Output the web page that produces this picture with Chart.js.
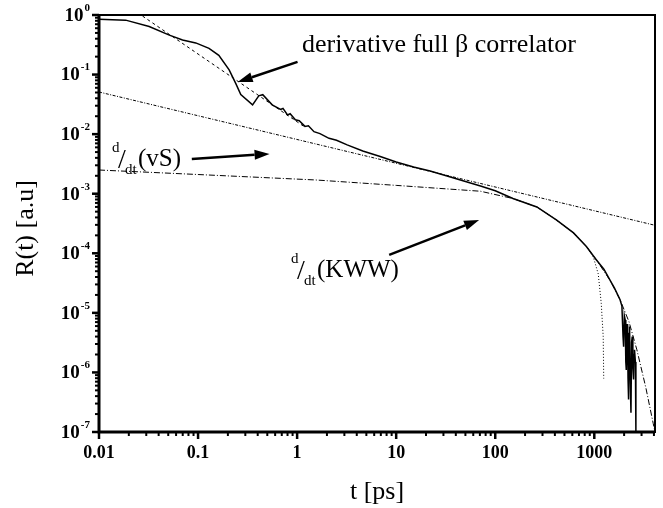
<!DOCTYPE html>
<html>
<head>
<meta charset="utf-8">
<script src="https://cdn.jsdelivr.net/npm/chart.js@4/dist/chart.umd.min.js"></script>
<style>
  html, body { margin: 0; padding: 0; background: #fff; }
  #wrap { width: 663px; height: 508px; }
</style>
</head>
<body>
<div id="wrap"><canvas id="rChart" width="663" height="508"></canvas></div>
<script>
// measured derivative of the full beta correlator (solid)
const tData = [0.01, 0.0186, 0.0321, 0.0513, 0.0697, 0.0948, 0.129, 0.162, 0.206, 0.24, 0.27, 0.355,
  0.41, 0.45, 0.56, 0.68, 0.72, 0.8, 0.85, 0.96, 1.05, 1.2, 1.3, 1.48, 1.7, 2.1, 2.5, 3.2, 4.6, 6.9,
  10, 15, 22, 32, 50, 71, 100, 151,
  263, 417, 617, 832, 1047, 1250, 1445, 1600, 1820, 1900, 1950, 1977, 2010, 2052, 2080, 2103, 2140,
  2168, 2190, 2218, 2245, 2271, 2300, 2345, 2380, 2416, 2450, 2489, 2520, 2547, 2600, 2630];
const rData = [0.85, 0.82, 0.64, 0.46, 0.38, 0.34, 0.275, 0.21, 0.12, 0.071, 0.046, 0.031,
  0.044, 0.046, 0.031, 0.026, 0.027, 0.021, 0.022, 0.0174, 0.0168, 0.0135, 0.0138, 0.011, 0.0102,
  0.0085, 0.0079, 0.0066, 0.0052, 0.0042, 0.0034,
  0.0028, 0.0024, 0.002, 0.0016, 0.00135, 0.00112, 0.00083,
  6.0e-4, 3.6e-4, 2.2e-4, 1.3e-4, 7.8e-5, 5.4e-5, 3.5e-5, 2.6e-5, 1.66e-5, 1.3e-5, 4.0e-6, 2.7e-6,
  9.0e-6, 7.6e-6, 1.5e-6, 1.1e-6, 6.5e-6, 5.1e-6, 8.0e-7, 3.5e-7, 4.5e-6, 5.9e-6, 9.0e-7, 2.1e-7,
  3.2e-6, 4.0e-6, 1.2e-6, 7.6e-7, 2.0e-6, 2.4e-6, 1.5e-6, 1e-7];

// short time power law (dashed)
const tShort = [0.0275, 1.2];
const rShort = [0.96, 0.0131];

// d/dt (von Schweidler)
const tVS = [0.01, 4100];
const rVS = [0.051, 2.95e-4];

// d/dt (KWW)
const tKWW = [0.01, 0.1, 1.55, 10, 71, 151, 263, 417, 617, 832, 1047, 1445, 1820, 2240, 2690, 3310, 3930, 4100];
const rKWW = [0.0025, 0.0021, 0.0017, 0.00138, 0.0011, 8.3e-4, 6.0e-4, 3.6e-4, 2.2e-4, 1.3e-4, 7.8e-5,
  3.5e-5, 1.66e-5, 7.1e-6, 2.4e-6, 5.6e-7, 1.4e-7, 1e-7];

// vS with correction, dropping to zero near 1.2 ns (dotted)
const tVS2 = [263, 417, 617, 832, 977, 1096, 1175, 1230, 1245];
const rVS2 = [6.0e-4, 3.6e-4, 2.2e-4, 1.3e-4, 8.7e-5, 4.5e-5, 1.45e-5, 4.0e-6, 7.9e-7];

const xTickValues = [0.01, 0.1, 1, 10, 100, 1000];
const xTickLabels = ['0.01', '0.1', '1', '10', '100', '1000'];
const yTickExps = [0, -1, -2, -3, -4, -5, -6, -7];

function pts(ts, rs) {
  return ts.map((t, i) => ({ x: t, y: rs[i] }));
}

const SERIF = '"Liberation Serif", "Times New Roman", serif';

function arrow(ctx, x1, y1, x2, y2) {
  const ang = Math.atan2(y2 - y1, x2 - x1);
  const hl = 15, hw = 5;
  const bx = x2 - hl * Math.cos(ang), by = y2 - hl * Math.sin(ang);
  ctx.lineWidth = 2.5;
  ctx.beginPath();
  ctx.moveTo(x1, y1);
  ctx.lineTo(bx, by);
  ctx.stroke();
  ctx.beginPath();
  ctx.moveTo(x2, y2);
  ctx.lineTo(bx + hw * Math.sin(ang), by - hw * Math.cos(ang));
  ctx.lineTo(bx - hw * Math.sin(ang), by + hw * Math.cos(ang));
  ctx.closePath();
  ctx.fill();
}

function ddtLabel(ctx, x, base, rest) {
  ctx.textAlign = 'left';
  ctx.textBaseline = 'alphabetic';
  ctx.font = '15px ' + SERIF;
  ctx.fillText('d', x, base - 14);
  ctx.font = '28px ' + SERIF;
  ctx.fillText('/', x + 6, base + 2);
  ctx.font = '15px ' + SERIF;
  ctx.fillText('dt', x + 13, base + 8);
  ctx.font = '25px ' + SERIF;
  ctx.fillText(rest, x + 26, base);
}

const decor = {
  id: 'decor',
  afterDraw(chart) {
    const { ctx, chartArea: a, scales: { x, y } } = chart;
    ctx.save();
    ctx.strokeStyle = '#000';
    ctx.fillStyle = '#000';

    // frame
    ctx.lineWidth = 2;
    ctx.strokeRect(a.left, a.top, a.right - a.left, a.bottom - a.top);
    ctx.lineWidth = 3;
    ctx.beginPath();
    ctx.moveTo(a.left, a.top);
    ctx.lineTo(a.left, a.bottom);
    ctx.lineTo(a.right, a.bottom);
    ctx.stroke();

    // tick marks
    for (let d = -2; d <= 3; d++) {
      for (let m = 1; m <= 9; m++) {
        const v = m * Math.pow(10, d);
        if (v > x.max) continue;
        const px = x.getPixelForValue(v);
        ctx.lineWidth = m === 1 ? 2.5 : 2;
        ctx.beginPath();
        ctx.moveTo(px, a.bottom);
        ctx.lineTo(px, a.bottom + (m === 1 ? 7 : 4));
        ctx.stroke();
      }
    }
    for (let d = -7; d <= 0; d++) {
      for (let m = 1; m <= 9; m++) {
        const v = m * Math.pow(10, d);
        if (v > y.max * 1.0001) continue;
        const py = y.getPixelForValue(v);
        ctx.lineWidth = m === 1 ? 2.5 : 2;
        ctx.beginPath();
        ctx.moveTo(a.left, py);
        ctx.lineTo(a.left - (m === 1 ? 7 : 4), py);
        ctx.stroke();
      }
    }

    // tick labels
    ctx.font = 'bold 18px ' + SERIF;
    ctx.textAlign = 'center';
    ctx.textBaseline = 'middle';
    xTickValues.forEach((v, i) => {
      ctx.fillText(xTickLabels[i], x.getPixelForValue(v), a.bottom + 21);
    });
    yTickExps.forEach(e => {
      const py = y.getPixelForValue(Math.pow(10, e));
      ctx.textAlign = 'right';
      ctx.font = 'bold 11px ' + SERIF;
      const sup = String(e);
      ctx.fillText(sup, a.left - 9, py - 7);
      const sw = ctx.measureText(sup).width;
      ctx.font = 'bold 19px ' + SERIF;
      ctx.fillText('10', a.left - 10 - sw, py + 1);
    });

    // axis titles
    ctx.font = '26px ' + SERIF;
    ctx.textAlign = 'center';
    ctx.textBaseline = 'middle';
    ctx.fillText('t [ps]', (a.left + a.right) / 2, 492);
    ctx.save();
    ctx.translate(26, (a.top + a.bottom) / 2 + 5);
    ctx.rotate(-Math.PI / 2);
    ctx.fillText('R(t) [a.u]', 0, 0);
    ctx.restore();

    // annotations
    ctx.textAlign = 'left';
    ctx.textBaseline = 'alphabetic';
    ctx.font = '26px ' + SERIF;
    ctx.fillText('derivative full \u03b2 correlator', 302, 52);
    arrow(ctx, x.getPixelForValue(1.01), y.getPixelForValue(0.163),
      x.getPixelForValue(0.251), y.getPixelForValue(0.075));

    ddtLabel(ctx, 112, 166, '(vS)');
    arrow(ctx, x.getPixelForValue(0.0865), y.getPixelForValue(3.84e-3),
      x.getPixelForValue(0.527), y.getPixelForValue(4.66e-3));

    ddtLabel(ctx, 291, 277, '(KWW)');
    arrow(ctx, x.getPixelForValue(8.5), y.getPixelForValue(9.4e-5),
      x.getPixelForValue(68.7), y.getPixelForValue(3.63e-4));

    ctx.restore();
  }
};

const ctx = document.getElementById('rChart').getContext('2d');
new Chart(ctx, {
  type: 'line',
  data: {
    datasets: [
      { label: 'vS', data: pts(tVS, rVS), borderWidth: 1, borderDash: [3, 1.5, 1, 1.5] },
      { label: 'KWW', data: pts(tKWW, rKWW), borderWidth: 1, borderDash: [6, 2, 1, 2] },
      { label: 'short', data: pts(tShort, rShort), borderWidth: 1, borderDash: [3, 3] },
      { label: 'vS corr', data: pts(tVS2, rVS2), borderWidth: 1, borderDash: [1, 2] },
      { label: 'full beta', data: pts(tData, rData), borderWidth: 1.5 }
    ].map(ds => Object.assign(ds, {
      borderColor: '#000', backgroundColor: '#000', pointRadius: 0, tension: 0, fill: false
    }))
  },
  options: {
    responsive: false,
    devicePixelRatio: 1,
    animation: false,
    layout: { padding: { left: 99, right: 8, top: 15, bottom: 76 } },
    plugins: { legend: { display: false }, tooltip: { enabled: false } },
    scales: {
      x: {
        type: 'logarithmic', min: 0.01, max: 4100,
        ticks: { display: false }, grid: { display: false }, border: { display: false },
        afterFit: s => { s.height = 0; }
      },
      y: {
        type: 'logarithmic', min: 1e-7, max: 1,
        ticks: { display: false }, grid: { display: false }, border: { display: false },
        afterFit: s => { s.width = 0; }
      }
    }
  },
  plugins: [decor]
});
</script>
</body>
</html>
